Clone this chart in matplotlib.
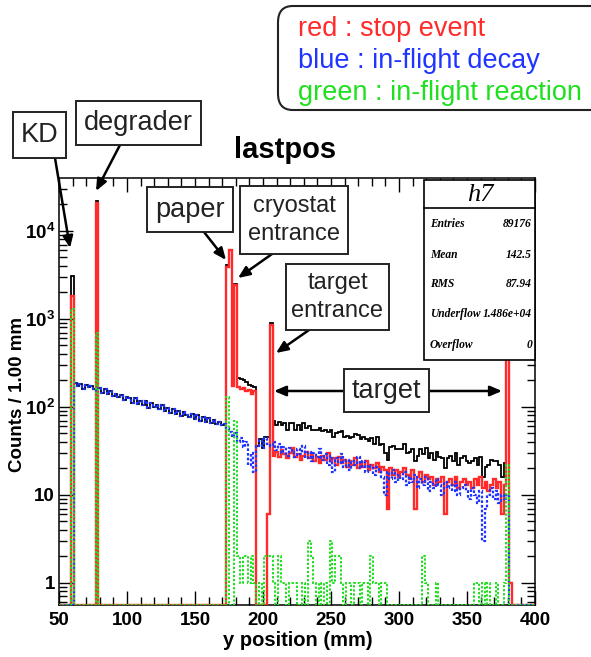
import numpy as np
import matplotlib
matplotlib.use("Agg")
import matplotlib.pyplot as plt
from matplotlib.patches import FancyBboxPatch, Rectangle
from matplotlib.ticker import FixedLocator, FixedFormatter, NullFormatter

plt.rcParams['font.family'] = ['Liberation Sans', 'DejaVu Sans']
plt.rcParams['mathtext.fontset'] = 'custom'
plt.rcParams['mathtext.rm'] = 'Liberation Sans:bold'
plt.rcParams['mathtext.bf'] = 'Liberation Sans:bold'
plt.rcParams['mathtext.it'] = 'Liberation Sans:bold'

# ---------------- data (2 mm bins, edges 49..401) ----------------
bin_lo = 49.0
bin_w = 2.0
n_bins = 176

# stop events (red), indexed from bin 0
red_kd = {5: 1800}
red_degrader = {14: 21000}
red_cryo = [3900, 6000, 175, 2400, 170, 160, 165, 150, 155, 140, 150,   # bins 62-72
            0, 0, 0, 0, 6, 860]                                          # bins 73-78
red_target = [28, 31, 27, 32, 29, 26, 30, 34, 27, 29, 25, 28, 31, 26, 29, 24,
              27, 23, 28, 25, 30, 24, 26, 22, 27, 23, 25, 21, 24, 22, 26, 20,
              23, 21, 24, 19, 22, 20, 23, 18, 21, 19, 7, 20, 17, 19, 16, 18,
              20, 17, 15, 19, 7, 16, 18, 14, 17, 15, 16, 13, 15, 14, 16, 6,
              14, 15, 13, 16, 12, 14, 15, 13, 14, 12, 15, 13, 16, 12, 14, 11,
              13, 15, 12, 14, 6, 13, 3400, 1]                            # bins 79-166

# in-flight decay (blue)
blue_upstream = [188, 175, 182, 160, 178, 168, 172, 158, 150, 162, 145, 158,
                 140, 150, 132, 142, 128, 138, 120, 131, 125, 112, 126, 108,
                 118, 104, 116, 98, 110, 100, 106, 94, 104, 90, 98, 86, 95,
                 84, 90, 78, 88, 80, 76, 84, 72, 80, 70, 76, 68, 74, 66, 71,
                 64, 68, 62, 64]                                           # bins 6-61
blue_cryo = [58, 52, 46, 50, 40, 44, 35, 40, 22, 30, 18, 36, 42, 34, 44, 38]  # bins 62-77
blue_target = [36, 40, 32, 38, 30, 35, 28, 34, 31, 27, 33, 29, 36, 26, 31, 24,
               30, 27, 33, 25, 29, 22, 28, 18, 26, 23, 29, 21, 25, 19, 24, 22,
               27, 20, 24, 18, 22, 20, 17, 21, 19, 16, 10, 18, 15, 19, 14, 17,
               15, 18, 13, 16, 14, 17, 12, 15, 13, 16, 11, 14, 12, 15, 13, 10,
               14, 12, 13, 11, 14, 10, 12, 13, 11, 9, 12, 10, 8, 11, 3, 7,
               10, 12, 9, 11, 8, 10, 9, 10]                               # bins 78-165

# in-flight reaction (green)
green_peaks = {5: 1300, 14: 700}
green_rest = [130, 0, 0, 70, 2, 1, 2, 2, 1, 2, 1, 0, 1, 0, 2, 2,          # bins 62-77
              2, 1, 0, 2, 1, 1, 0, 1, 1, 1, 0, 0, 1, 0, 3, 2,             # bins 78-93
              1, 0, 1, 0, 1, 0, 3, 1, 2, 2, 1, 0, 1, 1, 0, 1,             # bins 94-109
              1, 0, 1, 1, 0, 2, 1, 1, 0, 1, 1, 0, 0, 0, 0, 0,             # bins 110-125
              0, 0, 0, 0, 0, 0, 0, 0, 2, 1, 0, 0, 0, 1, 0, 0,             # bins 126-141
              0, 0, 0, 0, 0, 0, 0, 0, 0, 0, 0, 1, 1, 0, 1, 0,             # bins 142-157
              1, 0, 0, 1, 0, 0, 1, 22]                                    # bins 158-165

x_ticks = [50, 100, 150, 200, 250, 300, 350, 400]
x_tick_labels = ['50', '100', '150', '200', '250', '300', '350', '400']
y_ticks = [1, 10, 100, 1000, 10000]
y_tick_labels = ['1', '10', r'$\mathbf{10^{2}}$', r'$\mathbf{10^{3}}$', r'$\mathbf{10^{4}}$']

stats_names = ['Entries', 'Mean', 'RMS', 'Underflow', 'Overflow']
stats_values = ['89176', '142.5', '87.94', '1.486e+04', '0']

legend_lines = ['red : stop event', 'blue : in-flight decay', 'green : in-flight reaction']
legend_colors = ['#ff2a2a', '#1f35ff', '#1ee01e']

# ---------------- assemble histograms ----------------
edges = bin_lo + bin_w * np.arange(n_bins + 1)
red = np.zeros(n_bins)
blue = np.zeros(n_bins)
green = np.zeros(n_bins)
for k, v in red_kd.items():
    red[k] = v
for k, v in red_degrader.items():
    red[k] = v
red[62:62 + len(red_cryo)] = red_cryo
red[79:79 + len(red_target)] = red_target
blue[6:6 + len(blue_upstream)] = blue_upstream
blue[62:62 + len(blue_cryo)] = blue_cryo
blue[78:78 + len(blue_target)] = blue_target
for k, v in green_peaks.items():
    green[k] = v
green[62:62 + len(green_rest)] = green_rest
total = red + blue + green

ymin, ymax = 0.56, 40000

def floor(v):
    return np.where(v > 0, v, ymin)

# ---------------- figure ----------------
W, H = 591, 657
fig = plt.figure(figsize=(W / 100, H / 100), dpi=100)

def P(x, y):
    return (x / W, 1 - y / H)

L, R, T, B = 59, 535, 178, 605
ax = fig.add_axes([L / W, 1 - B / H, (R - L) / W, (B - T) / H])
ax.set_yscale('log')
ax.set_xlim(50, 400)
ax.set_ylim(ymin, ymax)

ax.stairs(floor(total), edges, baseline=None, color='black', lw=1.3, zorder=2)
ax.stairs(floor(red), edges, baseline=None, color=legend_colors[0], lw=1.7, zorder=3)
ax.stairs(floor(blue), edges, baseline=None, color=legend_colors[1], lw=1.6,
          ls=(0, (1.2, 0.9)), zorder=4)
ax.stairs(floor(green), edges, baseline=None, color=legend_colors[2], lw=1.4,
          ls=(0, (1.2, 0.9)), zorder=5)

ax.xaxis.set_major_locator(FixedLocator(x_ticks))
ax.xaxis.set_major_formatter(FixedFormatter(x_tick_labels))
ax.xaxis.set_minor_locator(FixedLocator(np.arange(50, 401, 10)))
ax.yaxis.set_major_locator(FixedLocator(y_ticks))
ax.yaxis.set_major_formatter(FixedFormatter(y_tick_labels))
minors = [m * 10.0 ** e for e in range(-1, 5) for m in range(2, 10)]
ax.yaxis.set_minor_locator(FixedLocator([m for m in minors if ymin < m < ymax]))
ax.yaxis.set_minor_formatter(NullFormatter())
ax.tick_params(which='both', direction='in', top=True, right=True, width=1.0, colors='black')
ax.tick_params(which='major', length=10)
ax.tick_params(which='minor', length=5.5)
ax.tick_params(axis='x', which='major', labelsize=13.5, pad=5)
ax.tick_params(axis='y', which='major', labelsize=13.5, pad=3)
for lab in ax.get_xticklabels() + ax.get_yticklabels():
    lab.set_fontweight('bold')
for s in ax.spines.values():
    s.set_linewidth(1.1)

fig.text(*P(298, 641), 'y position (mm)', fontsize=14.5, fontweight='bold', ha='center', va='center')
fig.text(*P(18, 394), 'Counts / 1.00 mm', fontsize=13.5, fontweight='bold', rotation=90,
         ha='center', va='center')
fig.text(*P(285, 150), 'lastpos', fontsize=21, fontweight='bold', ha='center', va='center')

# ---------------- stats box ----------------
sx0, sy0, sx1, sy1 = 424, 180, 535, 360
fig.patches.append(Rectangle(P(sx0, sy1), (sx1 - sx0) / W, (sy1 - sy0) / H,
                             transform=fig.transFigure, facecolor='white',
                             edgecolor='black', lw=1.2, zorder=6))
fig.lines.append(plt.Line2D([sx0 / W, sx1 / W], [1 - 208 / H] * 2, transform=fig.transFigure,
                            color='black', lw=1.2, zorder=7))
fig.text(*P(480, 195), 'h7', fontsize=19, fontstyle='italic', family='Liberation Serif',
         ha='center', va='center', zorder=8)
row_y = [224, 255, 284, 314, 345]
for name, val, yy in zip(stats_names, stats_values, row_y):
    fig.text(*P(430, yy), name, fontsize=8.3, fontstyle='italic', fontweight='bold',
             family='Liberation Serif', ha='left', va='center', zorder=8)
    fig.text(*P(532, yy), val, fontsize=8.3, fontstyle='italic', fontweight='bold',
             family='Liberation Serif', ha='right', va='center', zorder=8)

# ---------------- legend box ----------------
leg = FancyBboxPatch(P(278, 110), (640 - 278) / W, (110 - 6) / H,
                     boxstyle='round,pad=0,rounding_size=0.025', transform=fig.transFigure,
                     facecolor='white', edgecolor='#222222', lw=1.5, zorder=6)
fig.patches.append(leg)
for txt, col, yy in zip(legend_lines, legend_colors, [29, 61, 93]):
    fig.text(*P(298, yy), txt, fontsize=19.5, color=col, ha='left', va='center', zorder=8)

# ---------------- annotation boxes ----------------
def label_box(x0, y0, x1, y1, text, fs):
    fig.patches.append(Rectangle(P(x0, y1), (x1 - x0) / W, (y1 - y0) / H,
                                 transform=fig.transFigure, facecolor='white',
                                 edgecolor='#222222', lw=1.4, zorder=9))
    fig.text(*P((x0 + x1) / 2, (y0 + y1) / 2), text, fontsize=fs, ha='center', va='center',
             color='#222222', linespacing=1.3, zorder=10)

def arrow(x0, y0, x1, y1):
    ax.annotate('', xy=P(x1, y1), xycoords='figure fraction', xytext=P(x0, y0),
                textcoords='figure fraction',
                arrowprops=dict(arrowstyle='-|>,head_length=0.7,head_width=0.3',
                                color='black', lw=1.8, shrinkA=0, shrinkB=0),
                annotation_clip=False, zorder=11)

label_box(13, 112, 66, 158, 'KD', 19.5)
arrow(55, 158, 70, 248)
label_box(76, 101, 201, 145, 'degrader', 19.5)
arrow(120, 145, 96, 191)
label_box(147, 187, 233, 232, 'paper', 19.5)
arrow(204, 232, 226, 260)
label_box(240, 186, 348, 254, 'cryostat\nentrance', 17)
arrow(272, 254, 238, 278)
label_box(286, 264, 389, 330, 'target\nentrance', 17)
arrow(309, 330, 276, 353)
label_box(344, 369, 429, 412, 'target', 19.5)
arrow(344, 391, 274, 391)
arrow(429, 391, 502, 391)

fig.savefig('out.png', dpi=100)
